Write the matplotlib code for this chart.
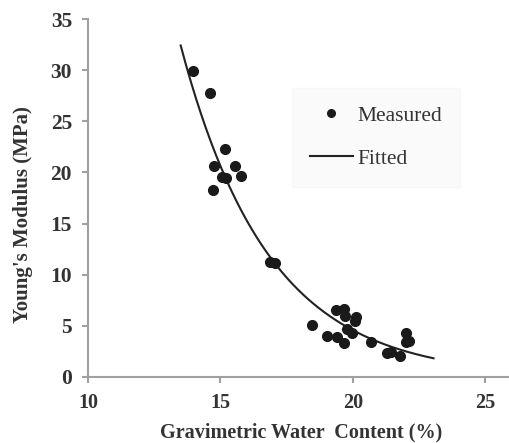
import numpy as np
import matplotlib
matplotlib.use('Agg')
import matplotlib.pyplot as plt
from matplotlib.lines import Line2D

water_content = [13.95, 14.61, 15.19, 14.77, 15.54, 15.05, 15.2, 15.78, 14.73,
                 16.88, 17.06, 18.45, 19.35, 19.66, 19.72, 20.14, 20.09, 19.77,
                 19.97, 19.02, 19.40, 19.68, 20.68, 21.28, 21.45, 21.79, 22.0,
                 22.02, 22.14]
youngs_modulus = [29.9, 27.8, 22.3, 20.6, 20.6, 19.6, 19.5, 19.7, 18.3,
                  11.27, 11.17, 5.05, 6.55, 6.68, 6.0, 5.85, 5.5, 4.7,
                  4.35, 4.05, 3.92, 3.28, 3.43, 2.32, 2.4, 2.1, 4.27,
                  3.45, 3.5]

# 지수 함수 적합 계수 (E = a * exp(-b * w))
fit_a = 1886.0
fit_b = 0.301
fit_range = (13.5, 23.05)

plt.rcParams['font.family'] = ['Liberation Serif', 'DejaVu Serif']
text_color = '#333333'
axis_color = '#a0a0a0'

fig = plt.figure(figsize=(5.09, 4.43), dpi=100)
ax = fig.add_axes([0.1729, 0.149, 0.8271, 0.808])

w_fit = np.linspace(fit_range[0], fit_range[1], 200)
ax.plot(w_fit, fit_a * np.exp(-fit_b * w_fit), color='#222222', lw=1.5)
ax.plot(water_content, youngs_modulus, 'o', color='#1a1a1a', ms=7)

ax.set_xlim(10, 25.9)
ax.set_ylim(0, 35)
ax.set_xticks([10, 15, 20, 25])
ax.set_yticks(range(0, 36, 5))

for side in ['top', 'right']:
    ax.spines[side].set_visible(False)
for side in ['left', 'bottom']:
    ax.spines[side].set_color(axis_color)
    ax.spines[side].set_linewidth(1.5)
ax.tick_params(direction='out', length=4.5, width=1.5, color=axis_color,
               labelcolor=text_color, pad=7)
ax.tick_params(axis='x', labelsize=14.5)
ax.tick_params(axis='y', labelsize=15.5)
for lab in ax.get_xticklabels() + ax.get_yticklabels():
    lab.set_fontweight('bold')

ax.set_xlabel('Gravimetric Water  Content (%)', fontsize=14.5, fontweight='bold',
              color=text_color)
ax.xaxis.set_label_coords(0.507, -0.128)
ax.set_ylabel("Young's Modulus (MPa)", fontsize=15, fontweight='bold',
              color=text_color)
ax.yaxis.set_label_coords(-0.131, 0.455)

handles = [Line2D([], [], ls='none', marker='o', color='#1a1a1a', ms=5.5),
           Line2D([], [], color='#222222', lw=1.5)]
leg = fig.legend(handles, ['Measured', 'Fitted'], loc='upper left',
                 bbox_to_anchor=(298 / 509, 1 - 94 / 443),
                 bbox_transform=fig.transFigure, borderaxespad=0,
                 frameon=True, fontsize=15.5, handlelength=2.0,
                 labelspacing=1.05, borderpad=0.55, handletextpad=0.2)
leg.get_frame().set_edgecolor('#f6f6f6')
leg.get_frame().set_facecolor('#f9f9f9')
leg.get_frame().set_boxstyle('square')
for t in leg.get_texts():
    t.set_color(text_color)

fig.savefig('out.png', dpi=100)
